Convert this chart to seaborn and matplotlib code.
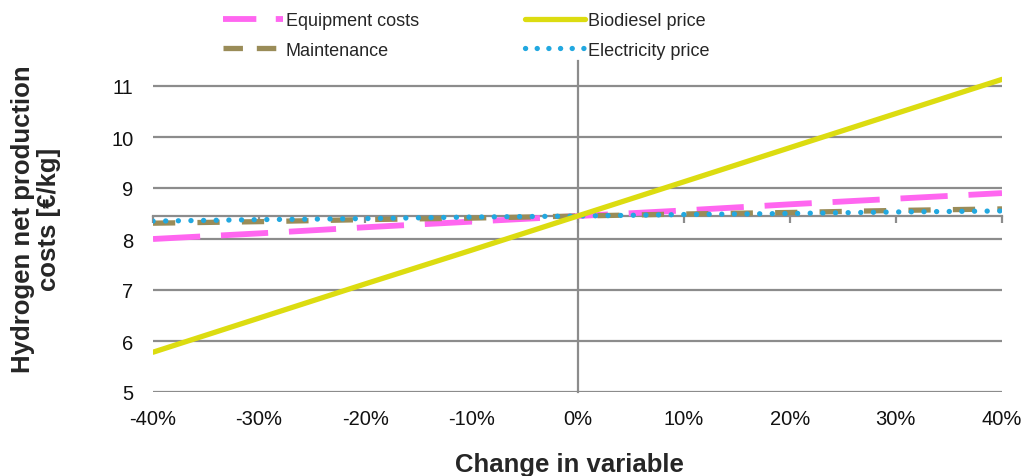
import numpy as np
import matplotlib
matplotlib.use('Agg')
import matplotlib.pyplot as plt
import pandas as pd
import seaborn as sns
from matplotlib.lines import Line2D

## datos
change = [-0.4, -0.3, -0.2, -0.1, 0.0, 0.1, 0.2, 0.3, 0.4]
xlabels = ['-40%', '-30%', '-20%', '-10%', '0%', '10%', '20%', '30%', '40%']
equipment = [8.00, 8.11, 8.23, 8.34, 8.45, 8.56, 8.68, 8.79, 8.90]
maintenance = [8.31, 8.34, 8.38, 8.41, 8.45, 8.49, 8.52, 8.56, 8.59]
electricity = [8.35, 8.38, 8.40, 8.43, 8.45, 8.48, 8.50, 8.53, 8.55]
biodiesel = [5.78, 6.45, 7.12, 7.78, 8.45, 9.12, 9.79, 10.46, 11.13]
base = 8.45

sns.set_theme(style='white')
plt.rcParams['font.family'] = ['Liberation Sans', 'DejaVu Sans']
plt.rcParams['lines.scale_dashes'] = False

df = pd.DataFrame({'x': change, 'eq': equipment, 'ma': maintenance,
                   'el': electricity, 'bi': biodiesel})

fig = plt.figure(figsize=(10.24, 4.77), dpi=100)
ax = fig.add_axes([153/1024, 84/477, 849/1024, 331.5/477])

c_eq = '#ff66f0'
c_ma = '#9a8c58'
c_el = '#22a8e0'
c_bi = '#dcdc10'

# lineas
sns.lineplot(data=df, x='x', y='eq', ax=ax, color=c_eq, lw=4.2, linestyle=(0, (34, 15)), zorder=3)
sns.lineplot(data=df, x='x', y='ma', ax=ax, color=c_ma, lw=3.8, linestyle=(0, (16, 16)), zorder=4)
sns.lineplot(data=df, x='x', y='el', ax=ax, color=c_el, lw=3.8, linestyle=(0, (0.1, 9)),
             dash_capstyle='round', zorder=5)
sns.lineplot(data=df, x='x', y='bi', ax=ax, color=c_bi, lw=3.8, zorder=6)

ax.set_xlim(-0.4, 0.4)
ax.set_ylim(5, 11.5)
ax.set_yticks([5, 6, 7, 8, 9, 10, 11])
ax.set_xticks(change)
ax.set_xticklabels(xlabels)

gcol = '#8c8c8c'
ax.grid(axis='y', color=gcol, lw=1.6)
ax.set_axisbelow(True)

# ejes cruzando en el caso base
for s in ['left', 'bottom']:
    ax.spines[s].set_visible(False)
ax.spines['top'].set_position(('data', base))
ax.spines['top'].set_color(gcol)
ax.spines['top'].set_linewidth(1.6)
ax.spines['right'].set_position(('data', 0))
ax.spines['right'].set_color(gcol)
ax.spines['right'].set_linewidth(1.6)

ax.tick_params(axis='x', top=True, bottom=False, labeltop=False, labelbottom=True,
               direction='in', length=5, width=1.6, color=gcol, pad=12,
               labelsize=14.5, labelcolor='#111111')
ax.tick_params(axis='y', left=False, right=False, labelleft=True, labelright=False,
               pad=8, labelsize=14.5, labelcolor='#111111')

ax.set_xlabel('Change in variable', fontsize=18.5, fontweight='bold', va='center')
ax.xaxis.set_label_coords(0.49, -0.218)
ax.set_ylabel('Hydrogen net production\ncosts [€/kg]', fontsize=18.5, fontweight='bold',
              linespacing=1.1, va='center')
ax.yaxis.set_label_coords(-0.138, 0.525)

handles = [
    Line2D([], [], color=c_eq, lw=4.2, linestyle=(0, (24, 14))),
    Line2D([], [], color=c_ma, lw=3.8, linestyle=(0, (14, 10))),
    Line2D([], [], color=c_bi, lw=3.8),
    Line2D([], [], color=c_el, lw=3.8, linestyle=(0, (0.1, 8.3)), dash_capstyle='round'),
]
labels = ['Equipment costs', 'Maintenance', 'Biodiesel price', 'Electricity price']
fig.legend(handles, labels, ncol=2, loc='upper left', bbox_to_anchor=(0.2178, 0.973),
           frameon=False, handlelength=3.3, handletextpad=0.17,
           columnspacing=5.9, labelspacing=0.7, borderpad=0, borderaxespad=0,
           fontsize=13)

plt.savefig('out.png', dpi=100)
